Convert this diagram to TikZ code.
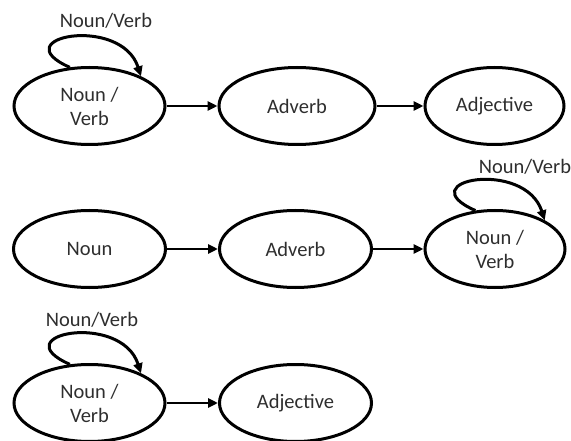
\documentclass[tikz,border=0pt]{standalone}
\usepackage{fontspec}
\setmainfont{Carlito}
\usetikzlibrary{shapes.geometric,arrows.meta}
\definecolor{txt}{HTML}{2E2E2E}
\tikzset{
  state/.style={ellipse, draw=black, line width=3pt, minimum width=151pt, minimum height=77pt,
    inner sep=0pt, align=center, text=txt, font=\fontsize{20.5}{24}\selectfont},
  trans/.style={line width=2.8pt, -{Triangle[length=10pt,width=9pt]}},
  selfloop/.style={line width=3pt, -{Triangle[length=10pt,width=9pt]}},
  looplabel/.style={text=txt, font=\fontsize{20.5}{24}\selectfont, inner sep=0pt}
}
\begin{document}
\begin{tikzpicture}[x=1pt,y=-1pt]
\useasboundingbox (0,0) rectangle (571,441);
% row 1
\node[state] (a1) at (89.5,106) {Noun /\\Verb};
\node[state, minimum width=156pt] (a2) at (297,106) {Adverb};
\node[state, minimum width=139pt] (a3) at (494.5,106) {Adjective};
\draw[trans] (a1.east) -- (a2.west);
\draw[trans] (a2.east) -- (a3.west);
\draw[selfloop] (a1.117) .. controls +(-68,-30) and +(-20,-62) .. (a1.30);
\node[looplabel] (l1) at (106,21) {Noun/Verb};
% row 2
\node[state, minimum width=152pt] (b1) at (89.5,249) {Noun};
\node[state, minimum width=152pt] (b2) at (295.5,249) {Adverb};
\node[state, minimum width=140pt] (b3) at (495,249) {Noun /\\Verb};
\draw[trans] (b1.east) -- (b2.west);
\draw[trans] (b2.east) -- (b3.west);
\draw[selfloop] (b3.117) .. controls +(-68,-30) and +(-20,-62) .. (b3.30);
\node[looplabel] (l2) at (525,167) {Noun/Verb};
% row 3
\node[state] (c1) at (89.5,403) {Noun /\\Verb};
\node[state, minimum width=152pt] (c2) at (295.5,403) {Adjective};
\draw[trans] (c1.east) -- (c2.west);
\draw[selfloop] (c1.117) .. controls +(-68,-30) and +(-20,-62) .. (c1.30);
\node[looplabel] (l3) at (92,320) {Noun/Verb};
\end{tikzpicture}
\end{document}
